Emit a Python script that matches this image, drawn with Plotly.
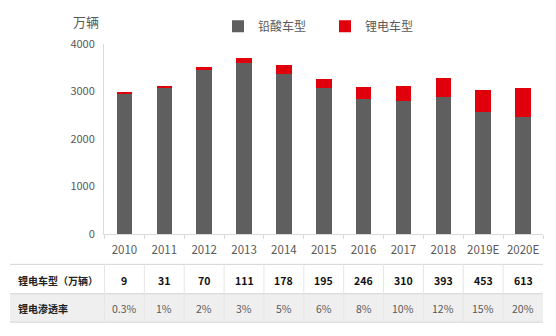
import plotly.graph_objects as go

years = ["2010", "2011", "2012", "2013", "2014", "2015", "2016", "2017", "2018", "2019E", "2020E"]
lead_acid = [2964, 3093, 3447, 3593, 3374, 3074, 2851, 2800, 2890, 2575, 2463]
lithium = [9, 31, 70, 111, 178, 195, 246, 310, 393, 453, 613]
lithium_labels = ["9", "31", "70", "111", "178", "195", "246", "310", "393", "453", "613"]
penetration = ["0.3%", "1%", "2%", "3%", "5%", "6%", "8%", "10%", "12%", "15%", "20%"]
y_ticks = [0, 1000, 2000, 3000, 4000]

FONT = "Noto Sans CJK SC"
GRAY_TXT = "#595959"

fig = go.Figure()
fig.add_trace(go.Bar(x=years, y=lead_acid, name="铅酸车型", marker=dict(color="#5f5f5f", line=dict(width=0))))
fig.add_trace(go.Bar(x=years, y=lithium, name="锂电车型", marker=dict(color="#e0000b", line=dict(width=0))))

W, H = 556, 336
L, R, T, B = 104, 13, 40, 102
pw, ph = W - L - R, H - T - B

def px_x(p):
    return (p - L) / pw

def px_y(p):
    return (H - B - p) / ph

shapes = []
annotations = []
# row 2 background
shapes.append(dict(type="rect", xref="paper", yref="paper", x0=px_x(10), x1=px_x(543),
                   y0=px_y(324), y1=px_y(295), fillcolor="#efefef", line=dict(width=0), layer="below"))
for yy in [265, 295, 324]:
    shapes.append(dict(type="line", xref="paper", yref="paper", x0=px_x(10), x1=px_x(543),
                       y0=px_y(yy), y1=px_y(yy), line=dict(color="#d4d4d4", width=1)))
for i in range(len(years)):
    shapes.append(dict(type="line", xref="x", yref="paper", x0=i - 0.5, x1=i - 0.5,
                       y0=px_y(265), y1=px_y(324), line=dict(color="#e6e6e6", width=1)))

annotations.append(dict(text="锂电车型（万辆）", xref="paper", yref="paper", x=px_x(16), y=px_y(281),
                        xanchor="left", yanchor="middle", showarrow=False,
                        font=dict(family=FONT, size=10, color="#222222", weight="bold")))
annotations.append(dict(text="锂电渗透率", xref="paper", yref="paper", x=px_x(16), y=px_y(310),
                        xanchor="left", yanchor="middle", showarrow=False,
                        font=dict(family=FONT, size=10, color="#222222", weight="bold")))
for i, yr in enumerate(years):
    annotations.append(dict(text=lithium_labels[i], xref="x", yref="paper", x=i, y=px_y(281),
                            xanchor="center", yanchor="middle", showarrow=False,
                            font=dict(family=FONT, size=10.5, color="#111111", weight="bold")))
    annotations.append(dict(text=penetration[i], xref="x", yref="paper", x=i, y=px_y(310),
                            xanchor="center", yanchor="middle", showarrow=False,
                            font=dict(family=FONT, size=10.5, color=GRAY_TXT)))

annotations.append(dict(text="万辆", xref="paper", yref="paper", x=px_x(71), y=px_y(17),
                        xanchor="left", yanchor="middle", showarrow=False,
                        font=dict(family=FONT, size=13, color=GRAY_TXT)))

fig.update_layout(
    width=W, height=H,
    margin=dict(l=L, r=R, t=T, b=B),
    barmode="stack",
    bargap=0.61,
    plot_bgcolor="white", paper_bgcolor="white",
    font=dict(family=FONT, color=GRAY_TXT),
    showlegend=True,
    legend=dict(orientation="h", x=px_x(218), y=px_y(22), xanchor="left", yanchor="middle",
                font=dict(family=FONT, size=12, color=GRAY_TXT), itemwidth=30,
                entrywidth=62, traceorder="normal", bgcolor="rgba(0,0,0,0)"),
    xaxis=dict(type="category", showline=True, linecolor="#d9d9d9", linewidth=1, ticks="outside",
               tickson="boundaries", ticklen=4, tickcolor="#d9d9d9", tickangle=0,
               ticklabelstandoff=5,
               tickfont=dict(family=FONT, size=11.5, color=GRAY_TXT),
               showgrid=False, fixedrange=True),
    yaxis=dict(range=[0, 4000], tickvals=y_ticks, showline=True, linecolor="#d9d9d9", linewidth=1,
               showgrid=False, zeroline=False, ticks="", ticklabelstandoff=6,
               tickfont=dict(family=FONT, size=11, color=GRAY_TXT)),
    shapes=shapes,
    annotations=annotations,
)

fig.write_html("out.html")
